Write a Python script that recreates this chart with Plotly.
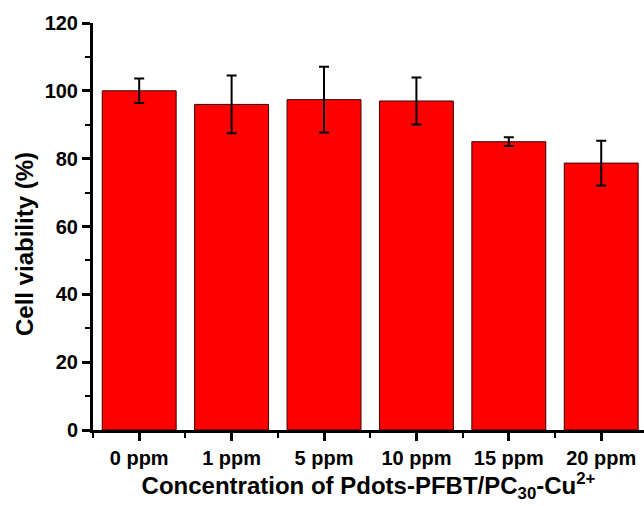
import plotly.graph_objects as go

categories = ["0 ppm", "1 ppm", "5 ppm", "10 ppm", "15 ppm", "20 ppm"]
viability = [100.0, 96.0, 97.4, 97.0, 85.0, 78.7]
errors = [3.6, 8.5, 9.7, 6.9, 1.3, 6.6]
y_ticks = [0, 20, 40, 60, 80, 100, 120]

positions = list(range(len(categories)))
minor_positions = [p - 0.5 for p in positions]

FONT = "Liberation Sans, Arial, sans-serif"

fig = go.Figure()
fig.add_trace(go.Bar(
    x=positions,
    y=viability,
    width=0.8,
    marker=dict(color="#ff0000", line=dict(color="#3a0000", width=1)),
    error_y=dict(type="data", array=errors, visible=True,
                 color="black", thickness=2, width=5),
    showlegend=False,
))

fig.update_layout(
    width=644, height=506,
    margin=dict(l=93, r=0, t=23, b=76),
    paper_bgcolor="white", plot_bgcolor="white",
    font=dict(family=FONT, color="black"),
    xaxis=dict(
        range=[-0.5, 5.463],
        tickmode="array", tickvals=positions, ticktext=categories,
        tickfont=dict(family=FONT, size=20, weight="bold", color="black"),
        ticks="outside", ticklen=8, tickwidth=2.5, tickcolor="black",
        showline=True, linecolor="black", linewidth=3,
        showgrid=False, zeroline=False,
        minor=dict(tickmode="array", tickvals=minor_positions,
                   ticks="outside", ticklen=5, tickwidth=2, tickcolor="black"),
        title=dict(text="<b>Concentration of Pdots-PFBT/PC<sub>30</sub>-Cu<sup>2+</sup></b>",
                   font=dict(family=FONT, size=24, color="black"), standoff=10),
    ),
    yaxis=dict(
        range=[0, 120],
        tickmode="array", tickvals=y_ticks,
        tickfont=dict(family=FONT, size=20, weight="bold", color="black"),
        ticks="outside", ticklen=8, tickwidth=2.5, tickcolor="black",
        showline=True, linecolor="black", linewidth=3,
        showgrid=False, zeroline=False,
        minor=dict(dtick=10, tick0=0, ticks="outside", ticklen=5,
                   tickwidth=2, tickcolor="black"),
    ),
    annotations=[dict(
        text="<b>Cell viability (%)</b>", textangle=-90,
        xref="paper", yref="paper", x=0, y=0.457,
        xanchor="center", yanchor="middle", xshift=-69,
        showarrow=False, font=dict(family=FONT, size=24, color="black"),
    )],
)

fig.write_html("out.html", config={"displayModeBar": False},
               post_script="document.body.style.margin='0px';")
